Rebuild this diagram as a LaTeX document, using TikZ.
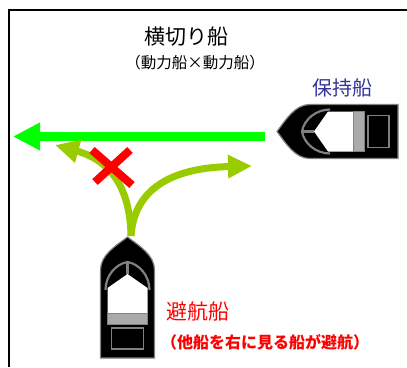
\documentclass[tikz,border=0pt]{standalone}
\usepackage{fontspec}
\newfontfamily\jp{Noto Sans CJK JP}
\usetikzlibrary{arrows.meta}
\definecolor{grn}{HTML}{00FF00}
\definecolor{ygrn}{HTML}{99CC00}
\definecolor{keepblue}{HTML}{333399}
\definecolor{hullgray}{HTML}{808080}
\definecolor{bargray}{HTML}{AAAAAA}
\tikzset{
  boat/.pic={
    \path[fill=black,draw=hullgray,line width=1.2]
      (-27,0) -- (-27,-88) .. controls (-27,-103) and (-12,-112) .. (0,-121)
      .. controls (12,-112) and (27,-103) .. (27,-88) -- (27,0) -- cycle;
    \fill[white] (-20,-45) -- (-20,-70) -- (0,-84) -- (20,-70) -- (20,-45) -- cycle;
    \draw[hullgray,line width=2.2] (-22,-68) .. controls (-22,-82) and (-12,-94) .. (0,-96)
      .. controls (12,-94) and (22,-82) .. (22,-68);
    \draw[hullgray,line width=2.2] (0,-96) -- (0,-84);
    \path[fill=bargray,draw=hullgray,line width=1] (-20,-34) rectangle (20,-45);
    \path[fill=black,draw=hullgray,line width=1.4] (-16,-9) rectangle (16,-30);
  },
  greenarrow/.style={grn,line width=9,-{Triangle[length=27pt,width=26pt]}},
  ygarrow/.style={ygrn,line width=7,line cap=butt,-{Triangle[length=24pt,width=22pt]}},
  cross/.style={red,line width=8},
  txt/.style={inner sep=0pt,font=\jp},
}
\begin{document}
\begin{tikzpicture}[x=1pt,y=-1pt]
\useasboundingbox (0,0) rectangle (407,367);
% frame
\draw[line width=2] (9,367) -- (9,9.5) -- (407,9.5);
% named points
\coordinate (keep) at (398,131.5);
\coordinate (avoid) at (127.5,358);
\coordinate (gstart) at (265,136.5);
\coordinate (gend) at (13,136.5);
\coordinate (bow) at (131,236);
\coordinate (ltip) at (55,145);
\coordinate (rtip) at (252,166);
\coordinate (xa) at (92,150);
\coordinate (xb) at (132,185);
\coordinate (xc) at (95,182);
\coordinate (xd) at (130,150);
% boats
\pic[rotate=90] at (keep) {boat};
\pic at (avoid) {boat};
% arrows
\draw[greenarrow] (gstart) -- (gend);
\draw[ygarrow] (bow) .. controls (130,178) and (102,158) .. (ltip);
\draw[ygarrow] (bow) .. controls (134,190) and (170,168) .. (rtip);
\draw[cross] (xa) -- (xb);
\draw[cross] (xc) -- (xd);
% texts
\node[txt,font=\jp\fontsize{21}{23}\selectfont] (title) at (186,37) {横切り船};
\node[txt,font=\jp\fontsize{15.5}{17}\selectfont] (sub) at (195,63) {（動力船×動力船）};
\node[txt,text=keepblue,font=\jp\fontsize{20}{22}\selectfont] (keeplbl) at (342,88) {保持船};
\node[txt,text=red,font=\jp\fontsize{21}{23}\selectfont] (avoidlbl) at (198,312) {避航船};
\node[txt,text=red,font=\jp\bfseries\fontsize{16}{18}\selectfont] (note) at (265,342) {（他船を右に見る船が避航）};
\end{tikzpicture}
\end{document}
